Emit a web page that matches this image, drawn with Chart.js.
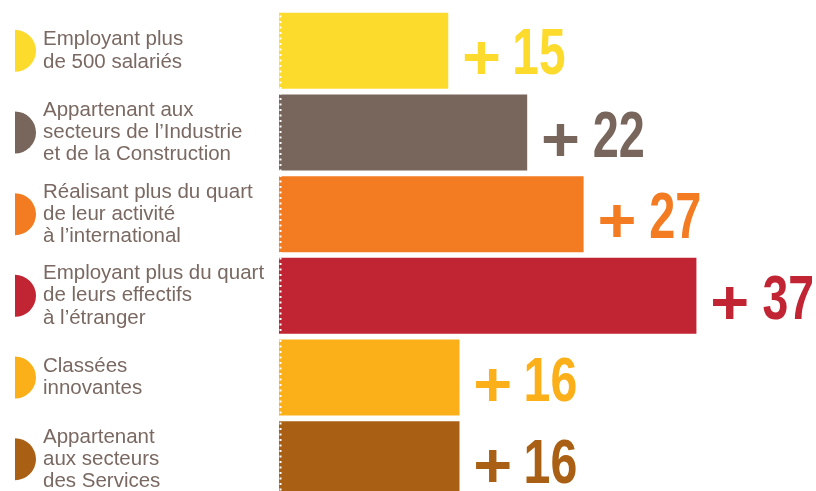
<!DOCTYPE html>
<html lang="fr">
<head>
<meta charset="utf-8">
<title>Écarts par profil d'entreprise</title>
<script src="https://cdn.jsdelivr.net/npm/chart.js@4/dist/chart.umd.min.js"></script>
<style>
  html, body { margin: 0; padding: 0; background: #ffffff; overflow: hidden; }
  #wrap { position: relative; width: 816px; height: 500px; }
</style>
</head>
<body>
<div id="wrap"><canvas id="chart"></canvas></div>
<script>
// Profils d'entreprises (libellés sur plusieurs lignes)
const categories = [
  ['Employant plus', 'de 500 salariés'],
  ['Appartenant aux', 'secteurs de l\u2019Industrie', 'et de la Construction'],
  ['Réalisant plus du quart', 'de leur activité', 'à l\u2019international'],
  ['Employant plus du quart', 'de leurs effectifs', 'à l\u2019étranger'],
  ['Classées', 'innovantes'],
  ['Appartenant', 'aux secteurs', 'des Services']
];
// Écart (en points)
const values = [15, 22, 27, 37, 16, 16];
const colors = ['#FDDB2D', '#78655C', '#F37B21', '#C12432', '#FBAF18', '#A96014'];
const labelColor = '#7A6962';

// Demi-disques colorés devant chaque libellé
const markers = {
  id: 'markers',
  afterDraw(chart) {
    const ctx = chart.ctx;
    const y = chart.scales.y;
    ctx.save();
    categories.forEach((c, i) => {
      const cy = y.getPixelForValue(i);
      ctx.beginPath();
      ctx.moveTo(15, cy - 21);
      ctx.arc(15, cy, 21, -Math.PI / 2, Math.PI / 2);
      ctx.closePath();
      ctx.fillStyle = colors[i];
      ctx.fill();
    });
    ctx.restore();
  }
};

// Pointillé blanc le long de l'origine des barres
const dottedEdge = {
  id: 'dottedEdge',
  afterDatasetsDraw(chart) {
    const ctx = chart.ctx;
    const area = chart.chartArea;
    ctx.save();
    ctx.strokeStyle = '#ffffff';
    ctx.lineWidth = 2;
    ctx.setLineDash([2, 3.5]);
    ctx.beginPath();
    ctx.moveTo(area.left + 1.5, area.top);
    ctx.lineTo(area.left + 1.5, area.bottom);
    ctx.stroke();
    ctx.restore();
  }
};

// Texte dessiné dans une boîte d'encre donnée (gauche, bas, largeur, hauteur)
function drawInk(ctx, text, font, left, bottom, w, h, color) {
  ctx.save();
  ctx.font = font;
  ctx.textBaseline = 'alphabetic';
  ctx.textAlign = 'left';
  const m = ctx.measureText(text);
  const iw = m.actualBoundingBoxLeft + m.actualBoundingBoxRight;
  const ih = m.actualBoundingBoxAscent + m.actualBoundingBoxDescent;
  ctx.translate(left, bottom);
  ctx.scale(w / iw, h / ih);
  ctx.fillStyle = color;
  ctx.fillText(text, m.actualBoundingBoxLeft, -m.actualBoundingBoxDescent);
  ctx.restore();
}

// Valeurs « + N » au bout des barres
const valueLabels = {
  id: 'valueLabels',
  afterDatasetsDraw(chart) {
    const ctx = chart.ctx;
    const meta = chart.getDatasetMeta(0);
    meta.data.forEach((bar, i) => {
      const end = bar.x;
      const base = bar.y + 24;
      drawInk(ctx, '+', 'bold 100px "Liberation Sans"', end + 16.5, base - 1, 34, 32, colors[i]);
      drawInk(ctx, String(values[i]), 'bold 100px "Liberation Sans"', end + 67, base, 49, 45, colors[i]);
    });
  }
};

new Chart(document.getElementById('chart'), {
  type: 'bar',
  data: {
    labels: categories,
    datasets: [{
      data: values,
      backgroundColor: colors,
      borderWidth: 0,
      categoryPercentage: 1,
      barPercentage: 0.93
    }]
  },
  options: {
    indexAxis: 'y',
    responsive: true,
    maintainAspectRatio: false,
    animation: false,
    layout: { padding: { left: 43, top: 10, right: 0, bottom: 0 } },
    plugins: {
      legend: { display: false },
      tooltip: { enabled: false }
    },
    scales: {
      x: {
        display: false,
        min: 0,
        max: 47.6
      },
      y: {
        grid: { display: false, drawTicks: false },
        border: { display: false },
        afterFit(scale) {
          scale.width = 236;
          scale.paddingTop = 0;
          scale.paddingBottom = 0;
        },
        ticks: {
          autoSkip: false,
          crossAlign: 'far',
          padding: 0,
          color: labelColor,
          font: { family: '"Liberation Sans", Arial, sans-serif', size: 20.5, lineHeight: 1.08 }
        }
      }
    }
  },
  plugins: [markers, dottedEdge, valueLabels]
});
</script>
</body>
</html>
